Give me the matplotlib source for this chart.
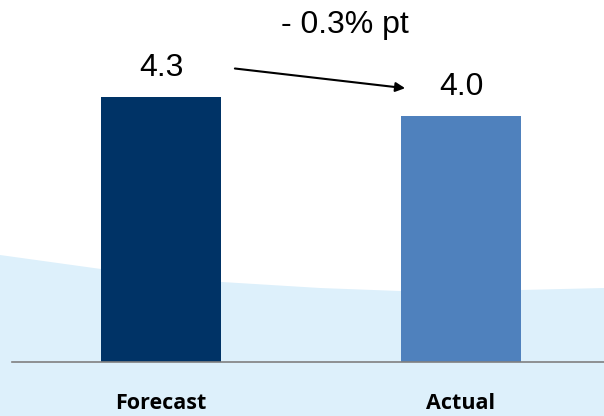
import numpy as np
import matplotlib
matplotlib.use("Agg")
import matplotlib.pyplot as plt

# valores do gráfico
categories = ["Forecast", "Actual"]
values = [4.3, 4.0]
value_labels = ["4.3", "4.0"]
change_label = "- 0.3% pt"
bar_colors = ["#003366", "#4F81BD"]

fig = plt.figure(figsize=(6.04, 4.16), dpi=100)
ax = fig.add_axes([0, 0, 1, 1])
ax.set_xlim(-0.537, 1.477)
ax.set_ylim(-0.877, 5.877)
ax.axis("off")

# fundo azul claro curvo (decorativo, em coordenadas do eixo)
cx = np.array([0, 101, 222, 320, 400, 521, 604]) / 604
cy = 1 - np.array([255, 269, 282, 288, 291, 290, 288]) / 416
xs = np.linspace(0, 1, 200)
ys = np.interp(xs, cx, cy)
ax.fill_between(xs, 0, ys, color="#DDF0FB", transform=ax.transAxes, zorder=0, lw=0)

x = np.arange(len(categories))
ax.bar(x, values, width=0.403, color=bar_colors, zorder=2)
ax.axhline(0, xmin=12 / 604, xmax=1, color="#808080", lw=1.2, zorder=3)

for xi, v, lab in zip(x, values, value_labels):
    ax.text(xi, v + 0.47, lab, ha="center", va="center",
            fontsize=23, family="Liberation Sans")
for xi, c in zip(x, categories):
    ax.text(xi, -0.67, c, ha="center", va="center", fontsize=15.5,
            fontweight="bold", family="Open Sans")

# seta de variação
ax.annotate("", xy=(x[1] - 0.177, values[1] + 0.44), xytext=(x[0] + 0.237, values[0] + 0.47),
            arrowprops=dict(arrowstyle="-|>", color="black", lw=1.5, mutation_scale=14))
ax.text(0.613, 5.47, change_label, ha="center", va="center",
        fontsize=23, family="Liberation Sans")

fig.savefig("out.png", dpi=100)
